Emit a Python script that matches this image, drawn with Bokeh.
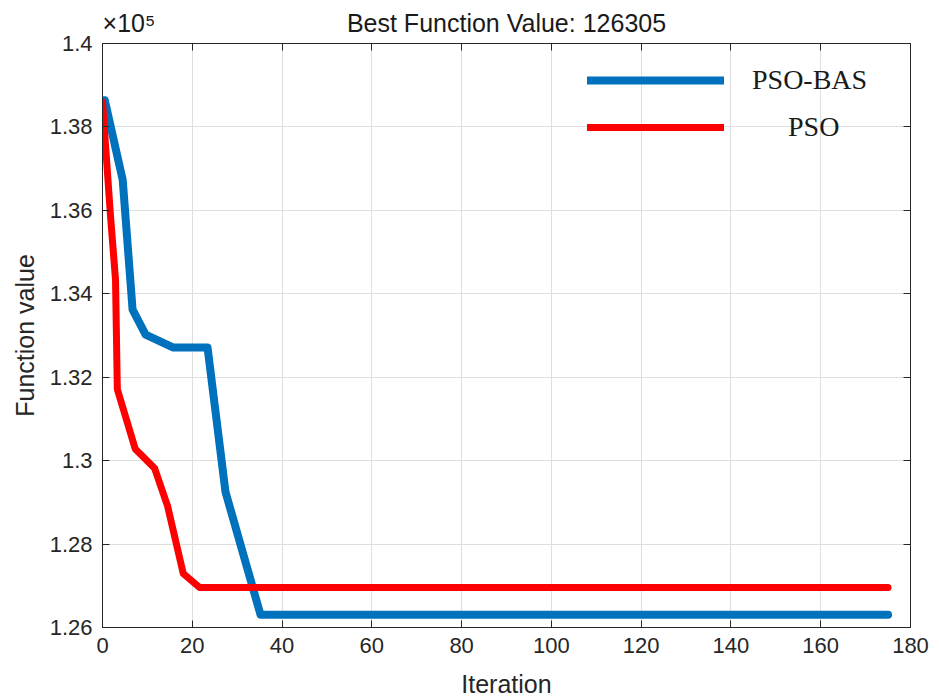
from bokeh.plotting import figure
from bokeh.models import (Range1d, FixedTicker, LinearAxis, Legend, LegendItem)
from bokeh.embed import file_html
from bokeh.resources import INLINE

# ---- data ----
pso_bas_iter = [0.5, 4.5, 6.7, 9.6, 15.8, 23.4, 27.4, 35.2, 175]
pso_bas_val = [138640, 136730, 133620, 133020, 132710, 132710, 129250, 126305, 126305]

pso_iter = [0, 1.8, 2.9, 3.3, 7.3, 11.6, 14.5, 18.0, 21.6, 175]
pso_val = [138590, 135840, 134340, 131710, 130280, 129820, 128910, 127290, 126960, 126960]

x_ticks = [0, 20, 40, 60, 80, 100, 120, 140, 160, 180]
y_ticks = [126000, 128000, 130000, 132000, 134000, 136000, 138000, 140000]
y_tick_labels = ["1.26", "1.28", "1.3", "1.32", "1.34", "1.36", "1.38", "1.4"]

title_text = "Best Function Value: 126305"
exponent_text = "×10⁵"
x_label = "Iteration"
y_label = "Function value"
series_names = ["PSO-BAS", "PSO"]

TXT = "#262626"
SANS = "Liberation Sans"
SERIF = "Liberation Serif"

p = figure(width=939, height=700, output_backend="svg", toolbar_location=None,
           x_range=Range1d(0, 180), y_range=Range1d(126000, 140000),
           min_border_left=102, min_border_right=29, min_border_top=43,
           min_border_bottom=71, title=None)
p.background_fill_color = "white"
p.border_fill_color = "white"
p.outline_line_color = TXT
p.outline_line_width = 1

xt = FixedTicker(ticks=x_ticks)
yt = FixedTicker(ticks=y_ticks)

for ax in p.xaxis:
    ax.ticker = xt
for ax in p.yaxis:
    ax.ticker = yt
p.yaxis.major_label_overrides = {t: l for t, l in zip(y_ticks, y_tick_labels)}

for ax in list(p.xaxis) + list(p.yaxis):
    ax.major_tick_in = 7
    ax.major_tick_out = 0
    ax.minor_tick_line_color = None
    ax.axis_line_color = TXT
    ax.major_tick_line_color = TXT
    ax.major_label_text_color = TXT
    ax.major_label_text_font = SANS
    ax.major_label_text_font_size = "22px"
    ax.axis_label_text_font = SANS
    ax.axis_label_text_font_size = "25px"
    ax.axis_label_text_font_style = "normal"
    ax.axis_label_text_color = TXT
    ax.major_label_standoff = 10

p.xaxis.axis_label = x_label
p.yaxis.axis_label = y_label
p.xaxis.axis_label_standoff = 14
p.yaxis.axis_label_standoff = 8

# top and right box ticks (no labels drawn)
top = LinearAxis(ticker=xt, major_tick_in=7, major_tick_out=0,
                 minor_tick_line_color=None, major_label_text_font_size="0px",
                 major_label_text_color=None,
                 axis_line_color=TXT, major_tick_line_color=TXT,
                 major_label_standoff=0)
right = LinearAxis(ticker=yt, major_tick_in=7, major_tick_out=0,
                   minor_tick_line_color=None, major_label_text_font_size="0px",
                   major_label_text_color=None,
                   axis_line_color=TXT, major_tick_line_color=TXT,
                   major_label_standoff=0)
p.add_layout(top, "above")
p.add_layout(right, "right")

# header row: exponent marker and title, drawn as labels of an invisible top axis
header_pos = [5.9, 90]
header = LinearAxis(ticker=FixedTicker(ticks=header_pos),
                    major_label_overrides={header_pos[0]: exponent_text,
                                           header_pos[1]: title_text},
                    major_tick_in=0, major_tick_out=0, minor_tick_line_color=None,
                    axis_line_color=None, major_tick_line_color=None,
                    major_label_text_font=SANS, major_label_text_font_size="25px",
                    major_label_text_color="#1a1a1a", major_label_standoff=7)
p.add_layout(header, "above")

p.xgrid.ticker = xt
p.ygrid.ticker = yt
p.grid.grid_line_color = "#dedede"
p.grid.grid_line_width = 1

r_bas = p.line(pso_bas_iter, pso_bas_val, line_color="#0072bd", line_width=8,
               line_join="round", line_cap="round")
r_pso = p.line(pso_iter, pso_val, line_color="#ff0000", line_width=7,
               line_join="round", line_cap="round")

# legend: two boxes so that the labels can be placed like the reference
common = dict(border_line_color=None, background_fill_alpha=0, padding=0, margin=0,
              glyph_width=137, glyph_height=30, label_height=30,
              label_text_font=SERIF, label_text_font_size="28px",
              label_text_color="#1a1a1a")
leg1 = Legend(items=[LegendItem(label=series_names[0], renderers=[r_bas])],
              location=(485, 531), label_standoff=28, **common)
leg2 = Legend(items=[LegendItem(label=series_names[1], renderers=[r_pso])],
              location=(485, 484), label_standoff=64, **common)
p.add_layout(leg1)
p.add_layout(leg2)

open("out.html", "w").write(file_html(p, INLINE))
